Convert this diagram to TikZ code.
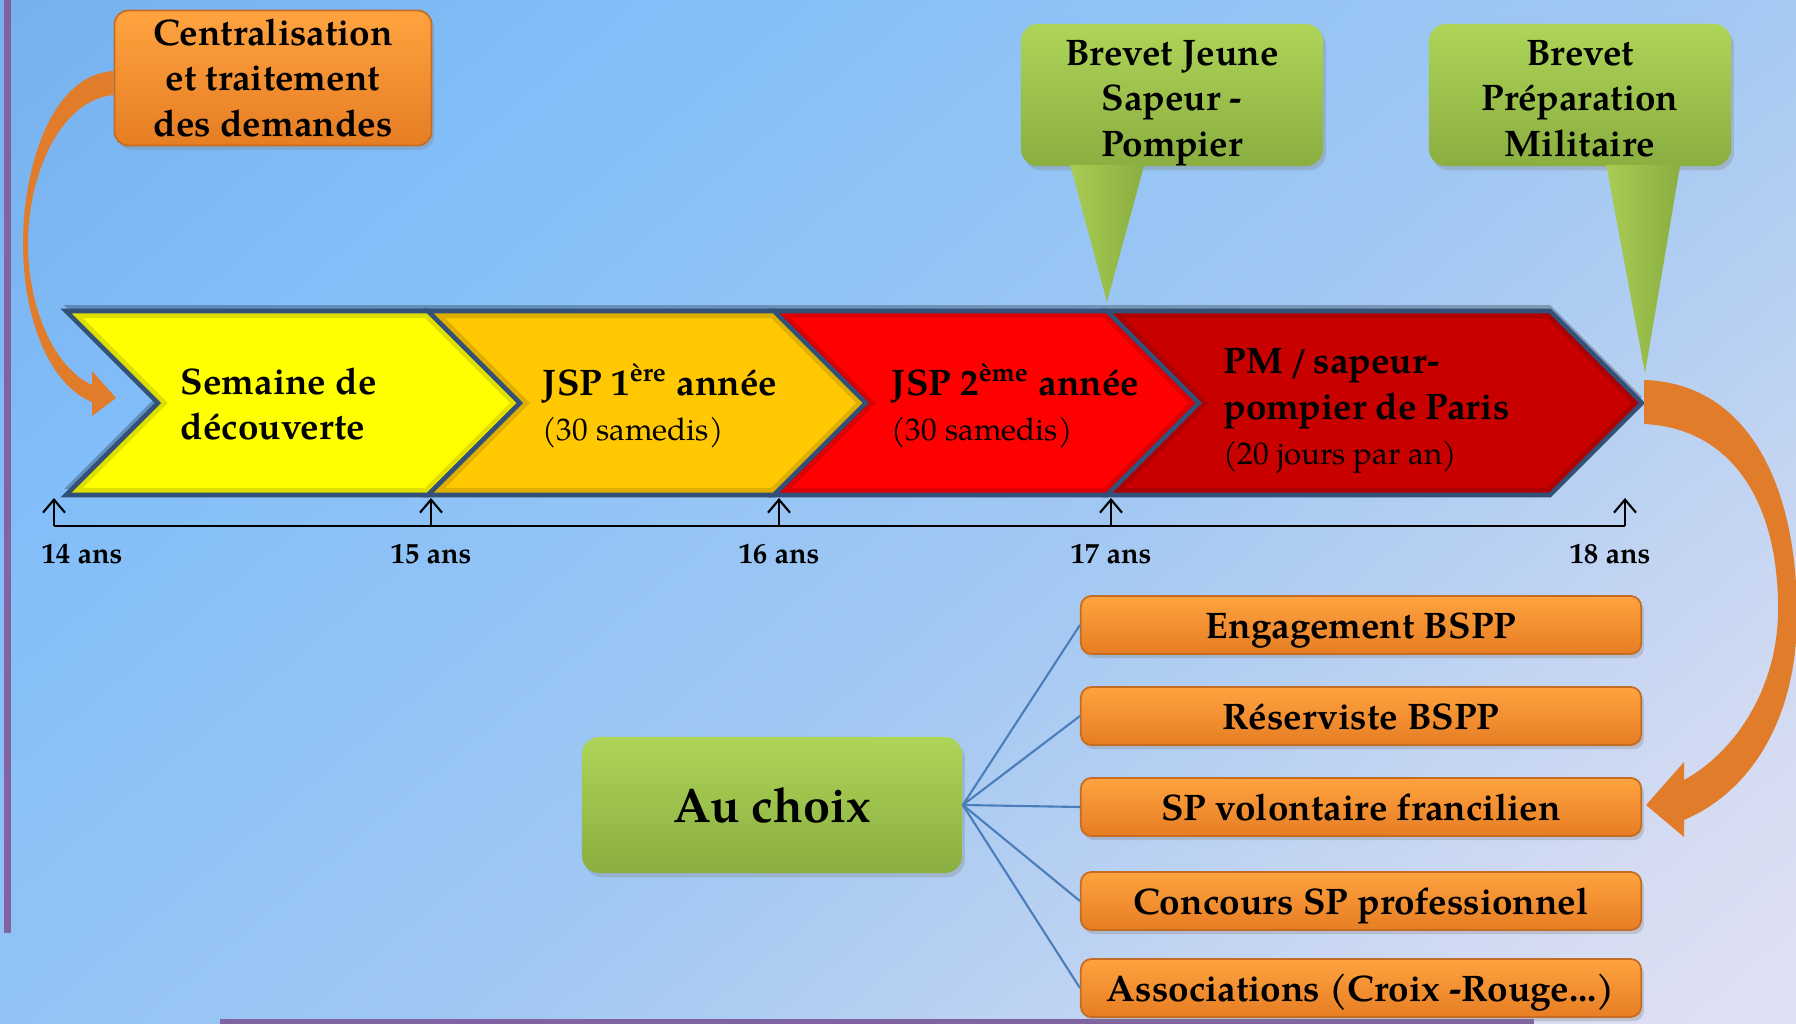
\documentclass[tikz,border=0pt]{standalone}
\usepackage{fontspec}
\setmainfont{TeX Gyre Pagella}
\usetikzlibrary{arrows.meta,calc,shadows}

\definecolor{bgA}{RGB}{106,162,226}
\definecolor{bgB}{RGB}{130,190,249}
\definecolor{bgC}{RGB}{162,200,242}
\definecolor{bgD}{RGB}{214,220,242}
\definecolor{bgE}{RGB}{246,233,247}
\definecolor{chevblue}{RGB}{50,80,120}
\definecolor{yellowC}{RGB}{255,255,0}
\definecolor{goldC}{RGB}{255,200,0}
\definecolor{redC}{RGB}{255,0,0}
\definecolor{dredC}{RGB}{200,0,0}
\definecolor{orangeT}{RGB}{255,163,64}
\definecolor{orangeB}{RGB}{230,125,35}
\definecolor{orangeD}{RGB}{196,108,36}
\definecolor{bandorange}{RGB}{224,124,42}
\definecolor{greenT}{RGB}{174,212,88}
\definecolor{greenB}{RGB}{138,174,64}
\definecolor{greenL}{RGB}{168,204,84}
\definecolor{linkblue}{RGB}{74,126,187}
\definecolor{purp}{RGB}{128,100,162}

\pgfdeclarehorizontalshading{bgshade}{100bp}{color(0bp)=(bgA); color(30bp)=(bgB); color(55bp)=(bgC); color(78bp)=(bgD); color(100bp)=(bgE)}

\begin{document}
\begin{tikzpicture}[x=0.01cm, y=-0.01cm,
		big/.style={font=\fontsize{10.5}{13}\selectfont\bfseries},
		obox/.style={draw=orangeD, line width=0.5pt, rounded corners=4pt, top color=orangeT, bottom color=orangeB, drop shadow={opacity=0.3, shadow xshift=0.8pt, shadow yshift=-1.2pt}, inner sep=0pt, align=center},
		opt/.style={obox, big, rounded corners=3pt, minimum width=5.6cm, minimum height=0.58cm, text height=7.4pt, text depth=0pt},
		gbox/.style={rounded corners=5pt, top color=greenT, bottom color=greenB, drop shadow={opacity=0.3, shadow xshift=0.8pt, shadow yshift=-1.2pt}, inner sep=0pt, align=center},
		chev/.style={draw=chevblue, line width=1.3pt, line join=miter},
		age/.style={font=\fontsize{8.2}{10}\selectfont\bfseries, anchor=base},
		tick/.style={-{Straight Barb[length=1.3mm,width=2.2mm]}, line width=0.6pt},
		link/.style={draw=linkblue, line width=0.6pt},
		band/.style={fill=bandorange}]
		\useasboundingbox (0,0) rectangle (1796,1024);
		\shade[shading=bgshade, shading angle=-50] (0,0) rectangle (1796,1024);
		
		\fill[purp] (4,0) rectangle (11,933);
		\fill[purp] (220,1019) rectangle (1534,1024);
		
		\fill[black, opacity=0.25] (64,305) -- (1550,305) -- (1642,397) -- (1550,489) -- (64,489) -- (156,397) -- cycle;
		\foreach \a/\b/\c in {66/428/yellowC, 428/774/goldC, 774/1107/redC, 1107/1550/dredC} {
			\begin{scope}
				\clip (\a,311) -- (\b,311) -- ({\b+92},403) -- (\b,495) -- (\a,495) -- ({\a+92},403) -- cycle;
				\fill[\c] (\a,311) rectangle ({\b+92},495);
				\draw[black, opacity=0.13, line width=4pt] (\a,311) -- (\b,311) -- ({\b+92},403) -- (\b,495) -- (\a,495) -- ({\a+92},403) -- cycle;
			\end{scope}
			\draw[chev] (\a,311) -- (\b,311) -- ({\b+92},403) -- (\b,495) -- (\a,495) -- ({\a+92},403) -- cycle;
		}
		\coordinate (t4) at (1642,403);
		
		\node[big, anchor=west, align=left, inner sep=0pt] (sem) at (180,404) {Semaine de\\découverte};
		\node[big, anchor=west, align=left, inner sep=0pt] (jsp1) at (542,406) {JSP 1\textsuperscript{ère} année\\{\fontsize{8.9}{11}\selectfont\mdseries (30 samedis)}};
		\node[big, anchor=west, align=left, inner sep=0pt] (jsp2) at (891,406) {JSP 2\textsuperscript{ème} année\\{\fontsize{8.9}{11}\selectfont\mdseries (30 samedis)}};
		\node[big, anchor=west, align=left, inner sep=0pt] (pm) at (1223,411) {PM\hspace{0.16em}/\hspace{0.16em}sapeur-\\pompier de Paris\\{\fontsize{8.9}{11}\selectfont\mdseries (20 jours par an)}};
		
		\coordinate (p14) at (54,526);
		\coordinate (p15) at (431,526);
		\coordinate (p16) at (779,526);
		\coordinate (p17) at (1111,526);
		\coordinate (p18) at (1625,526);
		\draw[line width=0.6pt] (p14) -- (p18);
		\foreach \p in {p14,p15,p16,p17,p18}
			\draw[tick] (\p) -- ++(0,-28);
		\node[age] (a14) at (82,563) {14 ans};
		\node[age] (a15) at (431,563) {15 ans};
		\node[age] (a16) at (779,563) {16 ans};
		\node[age] (a17) at (1111,563) {17 ans};
		\node[age] (a18) at (1610,563) {18 ans};
		
		\node[obox, big, minimum width=3.17cm, minimum height=1.35cm] (centr) at (273,78) {Centralisation\\et traitement\\des demandes};
		
		\node[gbox, big, minimum width=3.02cm, minimum height=1.37cm] (bjsp) at (1172,95) {\rule{0pt}{11.8pt}Brevet Jeune\\Sapeur -\\Pompier};
		\coordinate (bjtip) at (1107,302);
		\shade[left color=greenL, right color=greenB] ($(bjsp.south west)+(50,-2)$) -- (bjtip) -- ($(bjsp.south west)+(124,-2)$) -- cycle;
		
		\node[gbox, big, minimum width=3.02cm, minimum height=1.37cm] (bpm) at (1580,95) {\rule{0pt}{11.8pt}Brevet\\Préparation\\Militaire\vphantom{p}};
		\coordinate (bptip) at (1645,373);
		\shade[left color=greenL, right color=greenB] ($(bpm.south west)+(178,-2)$) -- (bptip) -- ($(bpm.south west)+(252,-2)$) -- cycle;
		
		\node[gbox, minimum width=3.8cm, minimum height=1.36cm, font=\fontsize{13.8}{16}\selectfont\bfseries] (choix) at (772,805) {Au choix};
		
		\node[opt] (eng) at (1361,625) {Engagement BSPP};
		\node[opt] (res) at (1361,716) {Réserviste BSPP};
		\node[opt] (vol) at (1361,807) {SP volontaire francilien};
		\node[opt] (conc) at (1361,901) {Concours SP professionnel};
		\node[opt] (asso) at (1361,988) {Associations (Croix -Rouge...)};
		\foreach \o in {eng,res,vol,conc,asso}
			\draw[link] (choix.east) -- (\o.west);
		
		\fill[band] ($(centr.west)+(0,-7)$) .. controls (50,75) and (23,170) .. (23,243) .. controls (23,320) and (50,385) .. (92,402) -- (92,416) -- (116,398) -- (92,371) -- (92,385) .. controls (55,368) and (28,310) .. (28,243) .. controls (28,175) and (60,100) .. ($(centr.west)+(0,17)$) -- cycle;
		\fill[band] ($(t4)+(2,-23)$) .. controls (1745,383) and (1797,480) .. (1797,615) .. controls (1797,720) and (1750,792) .. (1684,820) -- (1684,837) -- ($(vol.east)+(4,-2)$) -- (1684,762) -- (1684,780) .. controls (1735,752) and (1776,690) .. (1778,615) .. controls (1780,500) and (1730,428) .. ($(t4)+(2,21)$) -- cycle;
	\end{tikzpicture}
\end{document}
